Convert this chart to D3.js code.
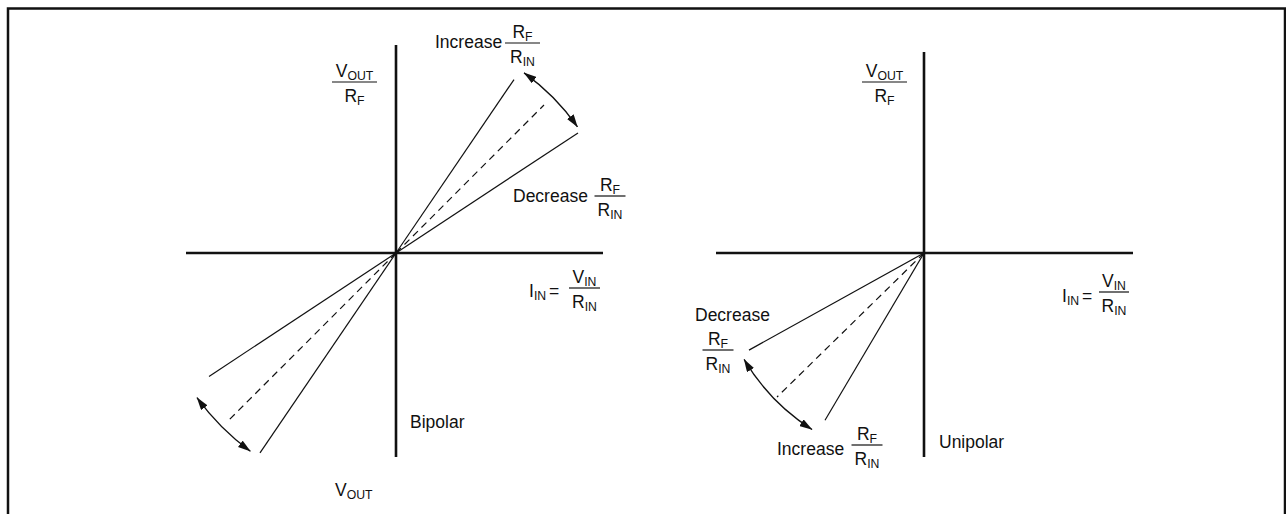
<!DOCTYPE html>
<html>
<head>
<meta charset="utf-8">
<script src="https://cdn.jsdelivr.net/npm/d3@7"></script>
<style>
  html, body { margin: 0; padding: 0; background: #fff; }
  svg { display: block; }
  text { font-family: "Liberation Sans", Arial, sans-serif; fill: #111; }
</style>
</head>
<body>
<div id="chart"></div>
<script>
// transfer curves, x in I_IN units (1 unit = 100 px)
// rays go: increase RF/RIN, nominal (dashed), decrease RF/RIN
const rayKinds = ['increase', 'nominal', 'decrease'];
const bipolarSlopes = [1.47, 1.0, 0.66];
const bipolarEndsPos = [1.18, 1.48, 1.82];
const bipolarEndsNeg = [-1.36, -1.68, -1.87];
const unipolarSlopes = [1.69, 0.98, 0.555];
const unipolarEnds = [-0.99, -1.47, -1.75];

// adjust arrows: [radius, start angle deg, end angle deg] (math angles)
const bipolarArcs = [[2.21, 54.6, 34.8], [2.46, 216, 233.7]];
const unipolarArcs = [[2.09, 210.6, 237.6]];

// axes extents
const bipolarX = [-2.10, 2.07], bipolarY = [-2.04, 2.08];
const unipolarX = [-2.08, 2.09], unipolarY = [-2.04, 2.01];

const W = 1286, H = 514;
const FS = 17.5;
const svg = d3.select('#chart').append('svg')
  .attr('width', W).attr('height', H);

// outer frame (bottom edge is cut off in the picture)
svg.append('path')
  .attr('d', d3.line()([[8, H + 5], [8, 8.5], [1285, 8.5], [1285, H + 5]]))
  .attr('fill', 'none').attr('stroke', '#111').attr('stroke-width', 2.5);

// arrowhead marker
svg.append('defs').append('marker')
  .attr('id', 'arrow')
  .attr('viewBox', '0 0 13 8')
  .attr('refX', 12.5).attr('refY', 4)
  .attr('markerUnits', 'userSpaceOnUse')
  .attr('markerWidth', 13).attr('markerHeight', 8)
  .attr('orient', 'auto-start-reverse')
  .append('path')
  .attr('d', 'M0,0 L13,4 L0,8 z')
  .attr('fill', '#111');

function makeScales(ox, oy, xExt, yExt) {
  const x = d3.scaleLinear().domain([0, 1]).range([ox, ox + 100]);
  const y = d3.scaleLinear().domain([0, 1]).range([oy, oy - 100]);
  return {x, y, xExt, yExt};
}

function drawAxes(g, s) {
  g.append('line')
    .attr('x1', s.x(s.xExt[0])).attr('x2', s.x(s.xExt[1]))
    .attr('y1', s.y(0)).attr('y2', s.y(0))
    .attr('stroke', '#111').attr('stroke-width', 2.6);
  g.append('line')
    .attr('x1', s.x(0)).attr('x2', s.x(0))
    .attr('y1', s.y(s.yExt[0])).attr('y2', s.y(s.yExt[1]))
    .attr('stroke', '#111').attr('stroke-width', 2.6);
}

function drawRays(g, s, slopes, ends) {
  const rays = slopes.map((m, i) => ({kind: rayKinds[i], m, xe: ends[i]}));
  g.selectAll(null)
    .data(rays)
    .join('line')
    .attr('x1', s.x(0)).attr('y1', s.y(0))
    .attr('x2', d => s.x(d.xe))
    .attr('y2', d => s.y(d.m * d.xe))
    .attr('stroke', '#111')
    .attr('stroke-width', 1.2)
    .attr('stroke-dasharray', d => d.kind == 'nominal' ? '7,5' : null);
}

function drawArcs(g, s, arcs) {
  const rad = Math.PI / 180;
  g.selectAll(null)
    .data(arcs)
    .join('path')
    .attr('d', d => {
      const p = d3.path();
      const a0 = -d[1] * rad, a1 = -d[2] * rad;
      p.arc(s.x(0), s.y(0), s.x(d[0]) - s.x(0), a0, a1, a1 < a0);
      return p.toString();
    })
    .attr('fill', 'none')
    .attr('stroke', '#111')
    .attr('stroke-width', 1.3)
    .attr('marker-start', 'url(#arrow)')
    .attr('marker-end', 'url(#arrow)');
}

// text with subscript: parts = [main, sub]
function subText(t, parts, size) {
  t.append('tspan').text(parts[0]);
  if (parts[1]) {
    t.append('tspan').attr('font-size', size * 0.7).attr('dy', 3).text(parts[1]);
  }
  return t;
}

function label(g, x, y, parts, anchor = 'start', size = FS) {
  const t = g.append('text')
    .attr('x', x).attr('y', y)
    .attr('font-size', size)
    .attr('text-anchor', anchor);
  return subText(t, parts, size);
}

function fraction(g, cx, barY, barW, num, den) {
  g.append('line')
    .attr('x1', cx - barW / 2).attr('x2', cx + barW / 2)
    .attr('y1', barY).attr('y2', barY)
    .attr('stroke', '#111').attr('stroke-width', 1.2);
  label(g, cx, barY - 5, num, 'middle');
  label(g, cx, barY + 20, den, 'middle');
}

const RF = ['R', 'F'], RIN = ['R', 'IN'], VOUT = ['V', 'OUT'], VIN = ['V', 'IN'];

// ---- bipolar panel ----
const sb = makeScales(396, 253, bipolarX, bipolarY);
const gb = svg.append('g');
drawAxes(gb, sb);
drawRays(gb, sb, bipolarSlopes, bipolarEndsPos);
drawRays(gb, sb, bipolarSlopes, bipolarEndsNeg);
drawArcs(gb, sb, bipolarArcs);

fraction(gb, 354.5, 82, 45, VOUT, RF);
label(gb, 435, 48, ['Increase']);
fraction(gb, 522.5, 43, 35, RF, RIN);
label(gb, 513, 202, ['Decrease']);
fraction(gb, 610, 196, 31, RF, RIN);
label(gb, 529, 297, ['I', 'IN']);
label(gb, 549, 297, ['=']);
fraction(gb, 584.5, 288, 31, VIN, RIN);
label(gb, 410, 428, ['Bipolar']);
label(gb, 335, 496, VOUT);

// ---- unipolar panel ----
const su = makeScales(924, 253, unipolarX, unipolarY);
const gu = svg.append('g');
drawAxes(gu, su);
drawRays(gu, su, unipolarSlopes, unipolarEnds);
drawArcs(gu, su, unipolarArcs);

fraction(gu, 884.5, 82, 45, VOUT, RF);
label(gu, 695, 321, ['Decrease']);
fraction(gu, 718, 350, 31, RF, RIN);
label(gu, 777, 455, ['Increase']);
fraction(gu, 867, 445, 31, RF, RIN);
label(gu, 939, 448, ['Unipolar']);
label(gu, 1062, 302, ['I', 'IN']);
label(gu, 1082, 302, ['=']);
fraction(gu, 1114, 292, 30, VIN, RIN);
</script>
</body>
</html>
